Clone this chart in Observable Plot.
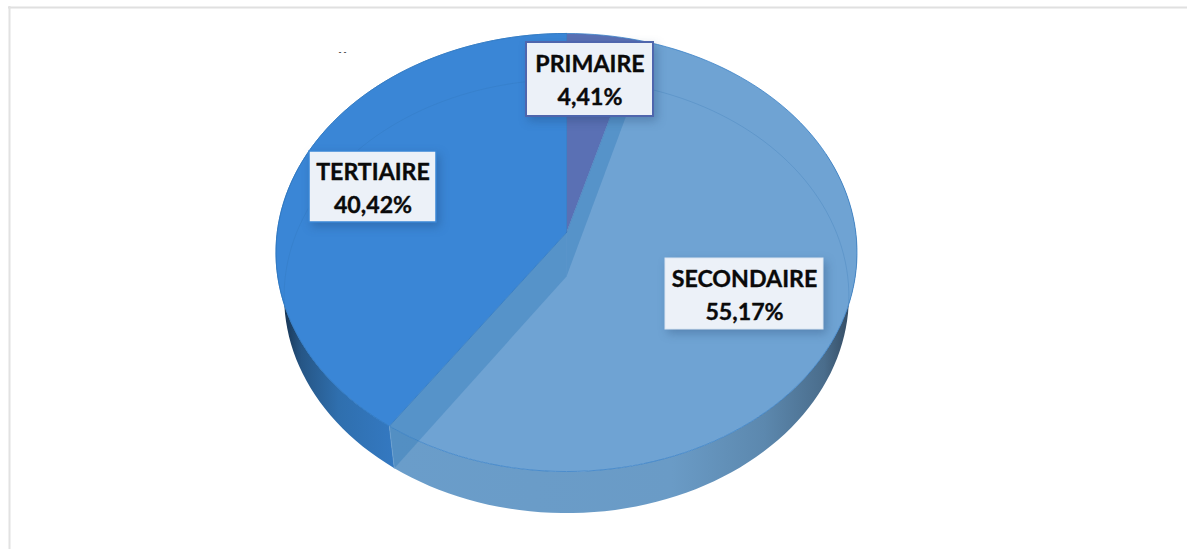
<!DOCTYPE html>
<html><head><meta charset="utf-8">
<style>html,body{margin:0;padding:0;background:#fff}svg{display:block}</style>
<script src="https://cdn.jsdelivr.net/npm/d3@7"></script>
<script src="https://cdn.jsdelivr.net/npm/@observablehq/plot@0.6"></script>
</head><body>
<script>
const sectors = ["PRIMAIRE", "SECONDAIRE", "TERTIAIRE"];
const shares = [4.41, 55.17, 40.42];
const topColors = ["#5a70b4", "#6fa3d3", "#3a86d6"];

// layout of the tilted pie (a unit circle seen in perspective)
const W = 1187, H = 549;
const cam = {cx: 566, cy: 232, a: 289.3, b: 217.2, k: 0.0913};
const floor = {cy: 276, sx: 0.972, sy: 0.99};
const boxes = [
  {x1: 526, x2: 653, y1: 42, y2: 116, stroke: "#4f66ad", sw: 2},
  {x1: 665, x2: 823, y1: 258, y2: 329, stroke: "#dbe6f2", sw: 1},
  {x1: 309, x2: 436, y1: 151, y2: 222, stroke: "#3a86d6", sw: 1.5}
];

const deg = t => t * Math.PI / 180;
function rim(t) {
  const u = Math.sin(deg(t)), v = -Math.cos(deg(t)), d = 1 - cam.k * v;
  return {x: cam.cx + cam.a * u / d, y: cam.cy + cam.b * v / d};
}
function low(p) {
  return {x: cam.cx + (p.x - cam.cx) * floor.sx, y: floor.cy + (p.y - cam.cy) * floor.sy};
}
function arc(t0, t1) {
  const n = Math.max(2, Math.ceil(Math.abs(t1 - t0) / 2)), out = [];
  for (let i = 0; i <= n; i++) out.push(t0 + (t1 - t0) * i / n);
  return out;
}

// slice angles from the shares
const total = d3.sum(shares);
let acc = 0;
const slices = sectors.map((name, i) => {
  const t0 = acc / total * 360; acc += shares[i]; const t1 = acc / total * 360;
  return {name, t0, t1, color: topColors[i]};
});
const [prim, sec, ter] = slices;
const apex = {x: cam.cx, y: cam.cy}, apexLow = {x: cam.cx, y: floor.cy};

const topFace = s => [apex, ...arc(s.t0, s.t1).map(rim), apex];
const wall = (t0, t1) => {
  const a = arc(t0, t1).map(rim);
  return [...a, ...a.map(low).reverse(), a[0]];
};
const cut = t => [apex, rim(t), low(rim(t)), apexLow, apex];

const poly = (pts, o) => Plot.line(pts, {x: "x", y: "y", curve: "linear", strokeLinejoin: "round", ...o});

const plot = Plot.plot({
  width: W, height: H, margin: 0,
  x: {domain: [0, W], range: [0, W], axis: null},
  y: {domain: [0, H], range: [0, H], axis: null},
  marks: [
    Plot.ruleY([7], {x1: 8, x2: W, stroke: "#e0e0e0", strokeWidth: 2}),
    Plot.ruleX([9], {y1: 6, y2: H, stroke: "#e2e2e2", strokeWidth: 2}),
    // outer walls
    poly(wall(ter.t0, 292), {fill: "url(#wallTer)", stroke: "none"}),
    poly(wall(68, sec.t1), {fill: "url(#wallSec)", stroke: "none"}),
    // top faces
    ...slices.map(s => poly(topFace(s), {fill: s.color, stroke: "none"})),
    poly(arc(0, 360).map(rim), {stroke: "#3a82c8", strokeWidth: 0.8}),
    poly(topFace(ter), {stroke: "#2f78c4", strokeWidth: 0.8}),
    poly([apex, rim(prim.t1)], {stroke: "#4a78b8", strokeWidth: 0.6}),
    // inner cut walls seen through the translucent secondary slice
    poly(cut(ter.t0), {fill: "#2f78b8", fillOpacity: 0.38, stroke: "none"}),
    poly(cut(prim.t1), {fill: "#2f78b8", fillOpacity: 0.38, stroke: "none"}),
    poly([rim(ter.t0), low(rim(ter.t0))], {stroke: "#6b9fcf", strokeWidth: 0.8}),
    // back of the floor rim
    poly(arc(262, 360).concat(arc(0, 98)).map(t => low(rim(t))), {stroke: "#2f6fb0", strokeOpacity: 0.3, strokeWidth: 0.8}),
    // labels
    Plot.rect(boxes, {x1: "x1", x2: "x2", y1: "y1", y2: "y2", fill: "#ecf1f8", stroke: "stroke", strokeWidth: "sw",
      imageFilter: "drop-shadow(3px 4px 5px rgba(20,50,90,.28))"}),
    Plot.text(sectors, {
      x: (d, i) => (boxes[i].x1 + boxes[i].x2) / 2,
      y: (d, i) => (boxes[i].y1 + boxes[i].y2) / 2 - 1.2,
      text: (d, i) => d + "\n" + shares[i].toFixed(2).replace(".", ",") + "%",
      fontFamily: "Lato", fontWeight: 700, fontSize: 23.2, lineHeight: 1.42, fill: "#0a0a0a",
      stroke: "#0a0a0a", strokeWidth: 0.35
    }),
    Plot.text(["- -"], {x: 342, y: 52, fontSize: 8, fontFamily: "Lato", fontWeight: 700, fill: "#333"})
  ]
});

const svg = d3.select(plot);
const defs = svg.insert("defs", ":first-child");
function grad(id, x1, x2, stops) {
  const g = defs.append("linearGradient").attr("id", id).attr("gradientUnits", "userSpaceOnUse")
    .attr("x1", x1).attr("x2", x2).attr("y1", 0).attr("y2", 0);
  stops.forEach(([o, c]) => g.append("stop").attr("offset", o).attr("stop-color", c));
}
grad("wallTer", 280, 396, [[0, "#152f4a"], [0.18, "#265686"], [0.5, "#2f6fae"], [1, "#3479c2"]]);
grad("wallSec", 394, 856, [[0, "#6a9dca"], [0.6, "#6a9bc6"], [0.8, "#5c88ae"], [0.93, "#4a6d8c"], [1, "#2f4358"]]);
document.body.appendChild(plot);
</script>
</body></html>
